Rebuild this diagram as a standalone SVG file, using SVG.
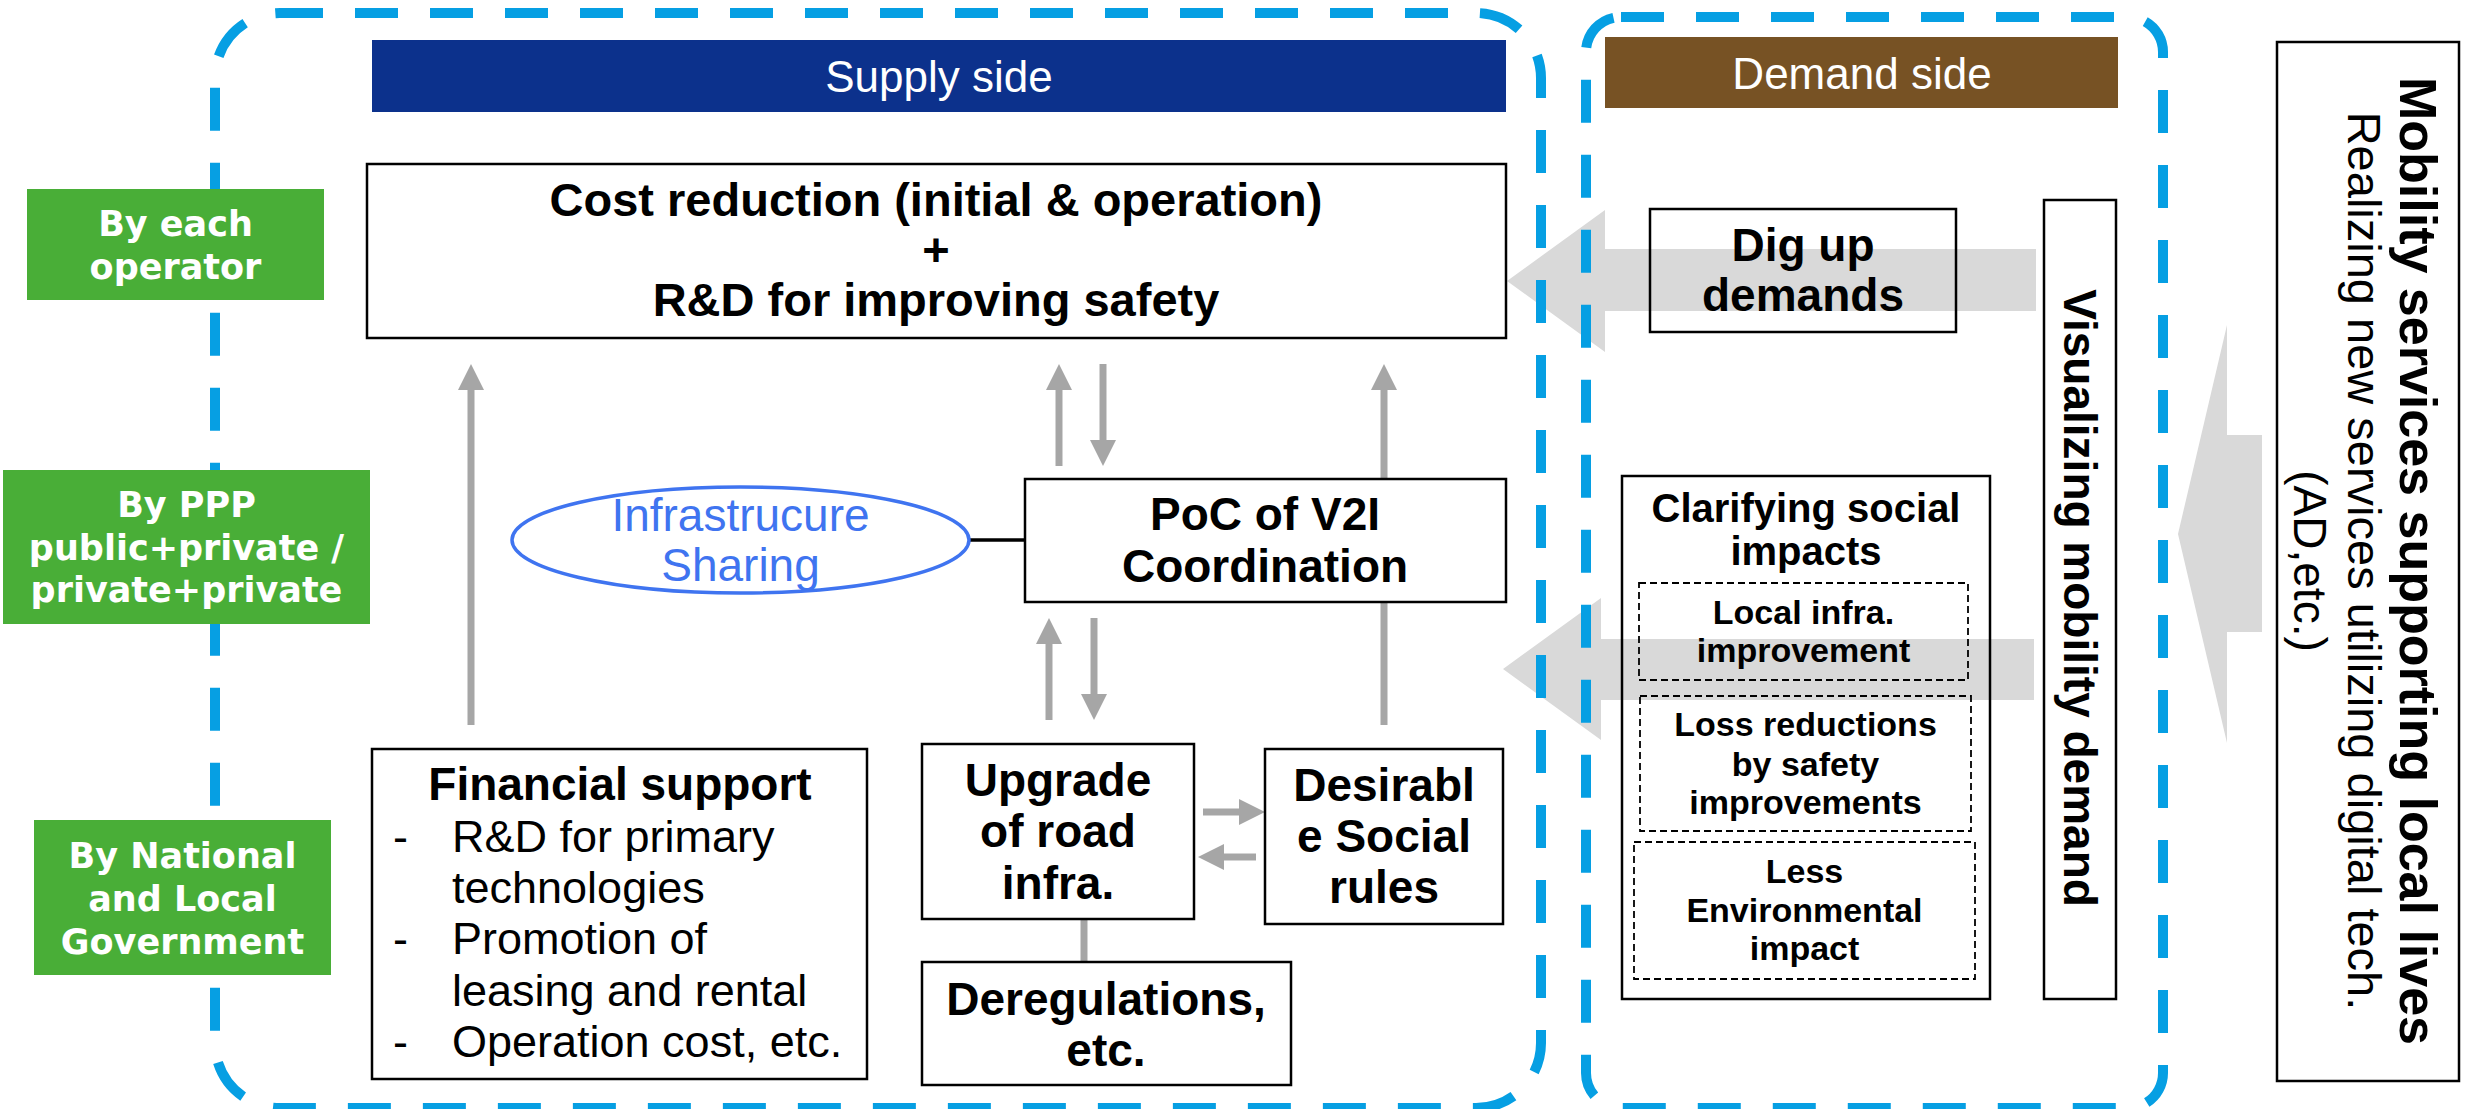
<svg xmlns="http://www.w3.org/2000/svg" width="2466" height="1109" viewBox="0 0 2466 1109">
<style>
.b{font-family:"Liberation Sans",Arial,sans-serif;font-weight:bold;fill:#000;text-anchor:middle}
.r{font-family:"Liberation Sans",Arial,sans-serif;fill:#000}
.g{font-family:"DejaVu Sans",Verdana,sans-serif;font-weight:bold;fill:#fff;text-anchor:middle;font-size:35px}
.box{fill:#fff;stroke:#000;stroke-width:2.5}
.obox{fill:none;stroke:#000;stroke-width:2.5}
.dbox{fill:none;stroke:#000;stroke-width:1.8;stroke-dasharray:7 4}
.cont{fill:none;stroke:#069FE3;stroke-width:10;stroke-dasharray:43 32}
.grn{fill:#49AE37}
.big{fill:#D9D9D9}
.con{stroke:#A6A6A6;stroke-width:7;fill:none}
.ban{font-family:"Liberation Sans",Arial,sans-serif;fill:#fff;text-anchor:middle;font-size:44px}
</style>
<defs>
<marker id="ah" markerUnits="userSpaceOnUse" markerWidth="26" markerHeight="26" refX="0" refY="13" orient="auto">
<path d="M0,0 L26,13 L0,26 z" fill="#A6A6A6"/>
</marker>
</defs>

<g id="big-arrows">
<polygon class="big" points="1507,281 1605,210 1605,249 2036,249 2036,311 1605,311 1605,352"/>
<polygon class="big" points="1503,669 1601,598 1601,639 2034,639 2034,700 1601,700 1601,740"/>
<polygon class="big" points="2178,534 2227,325 2227,435 2262,435 2262,632 2227,632 2227,743"/>
</g>

<g id="containers">
<rect class="cont" x="215" y="13" width="1326" height="1095" rx="65" ry="65"/>
<rect class="cont" x="1586" y="17" width="577" height="1091" rx="35" ry="35"/>
</g>

<g id="level-each-operator">
<rect class="grn" x="27" y="189" width="297" height="111"/>
<text class="g" x="175.5" y="236">By each</text>
<text class="g" x="175.5" y="279">operator</text>
</g>
<g id="level-ppp">
<rect class="grn" x="3" y="470" width="367" height="154"/>
<text class="g" x="186.5" y="517">By PPP</text>
<text class="g" x="186.5" y="560">public+private /</text>
<text class="g" x="186.5" y="602">private+private</text>
</g>
<g id="level-government">
<rect class="grn" x="34" y="820" width="297" height="155"/>
<text class="g" x="182.5" y="868">By National</text>
<text class="g" x="182.5" y="911">and Local</text>
<text class="g" x="182.5" y="954">Government</text>
</g>

<g id="supply-banner">
<rect x="372" y="40" width="1134" height="72" fill="#0C318C"/>
<text class="ban" x="939" y="92">Supply side</text>
</g>
<g id="demand-banner">
<rect x="1605" y="37" width="513" height="71" fill="#775224"/>
<text class="ban" x="1862" y="89">Demand side</text>
</g>

<g id="connectors">
<path class="con" d="M471,725 V390" marker-end="url(#ah)"/>
<path class="con" d="M1059,466 V390" marker-end="url(#ah)"/>
<path class="con" d="M1103,364 V440" marker-end="url(#ah)"/>
<path class="con" d="M1384,725 V390" marker-end="url(#ah)"/>
<path class="con" d="M1049,720 V644" marker-end="url(#ah)"/>
<path class="con" d="M1094,618 V694" marker-end="url(#ah)"/>
<path class="con" d="M1203,812 H1239" marker-end="url(#ah)"/>
<path class="con" d="M1256,857 H1224" marker-end="url(#ah)"/>
<path class="con" d="M1084,919 V962"/>
<path d="M969,540 H1025" stroke="#000" stroke-width="3.5" fill="none"/>
</g>

<g id="cost-reduction">
<rect class="box" x="367" y="164" width="1139" height="174"/>
<text class="b" x="936" y="216" font-size="47">Cost reduction (initial &amp; operation)</text>
<text class="b" x="936" y="266" font-size="47">+</text>
<text class="b" x="936" y="316" font-size="47">R&amp;D for improving safety</text>
</g>

<g id="infra-sharing">
<ellipse cx="740.5" cy="540" rx="228.5" ry="53" fill="#fff" stroke="#3F74F0" stroke-width="3.5"/>
<text x="740.5" y="531" font-family="Liberation Sans,Arial,sans-serif" font-size="46" fill="#3F74F0" text-anchor="middle">Infrastrucure</text>
<text x="740.5" y="581" font-family="Liberation Sans,Arial,sans-serif" font-size="46" fill="#3F74F0" text-anchor="middle">Sharing</text>
</g>

<g id="poc">
<rect class="box" x="1025" y="479" width="481" height="123"/>
<text class="b" x="1265" y="530" font-size="46">PoC of V2I</text>
<text class="b" x="1265" y="582" font-size="46">Coordination</text>
</g>

<g id="financial">
<rect class="box" x="372" y="749" width="495" height="330"/>
<text class="b" x="620" y="800" font-size="46">Financial support</text>
<text class="r" font-size="45">
<tspan x="393" y="852">-</tspan><tspan x="452" y="852">R&amp;D for primary</tspan>
<tspan x="452" y="903">technologies</tspan>
<tspan x="393" y="954">-</tspan><tspan x="452" y="954">Promotion of</tspan>
<tspan x="452" y="1006">leasing and rental</tspan>
<tspan x="393" y="1057">-</tspan><tspan x="452" y="1057">Operation cost, etc.</tspan>
</text>
</g>

<g id="upgrade">
<rect class="box" x="922" y="744" width="272" height="175"/>
<text class="b" x="1058" y="796" font-size="46">Upgrade</text>
<text class="b" x="1058" y="847" font-size="46">of road</text>
<text class="b" x="1058" y="899" font-size="46">infra.</text>
</g>

<g id="desirable">
<rect class="box" x="1265" y="749" width="238" height="175"/>
<text class="b" x="1384" y="801" font-size="46">Desirabl</text>
<text class="b" x="1384" y="852" font-size="46">e Social</text>
<text class="b" x="1384" y="903" font-size="46">rules</text>
</g>

<g id="deregulations">
<rect class="box" x="922" y="962" width="369" height="123"/>
<text class="b" x="1106" y="1015" font-size="46">Deregulations,</text>
<text class="b" x="1106" y="1066" font-size="46">etc.</text>
</g>

<g id="dig-up">
<rect class="obox" x="1650" y="209" width="306" height="123"/>
<text class="b" x="1803" y="261" font-size="46">Dig up</text>
<text class="b" x="1803" y="311" font-size="46">demands</text>
</g>

<g id="clarifying">
<rect class="obox" x="1622" y="476" width="368" height="523"/>
<text class="b" x="1806" y="522" font-size="40">Clarifying social</text>
<text class="b" x="1806" y="565" font-size="40">impacts</text>
<g id="local-infra">
<rect class="dbox" x="1639" y="583" width="329" height="97"/>
<text class="b" x="1803.5" y="624" font-size="34">Local infra.</text>
<text class="b" x="1803.5" y="662" font-size="34">improvement</text>
</g>
<g id="loss-reductions">
<rect class="dbox" x="1640" y="696" width="331" height="135"/>
<text class="b" x="1805.5" y="736" font-size="34">Loss reductions</text>
<text class="b" x="1805.5" y="776" font-size="34">by safety</text>
<text class="b" x="1805.5" y="814" font-size="34">improvements</text>
</g>
<g id="less-env">
<rect class="dbox" x="1634" y="842" width="341" height="137"/>
<text class="b" x="1804.5" y="883" font-size="34">Less</text>
<text class="b" x="1804.5" y="922" font-size="34">Environmental</text>
<text class="b" x="1804.5" y="960" font-size="34">impact</text>
</g>
</g>

<g id="visualizing">
<rect class="box" x="2044" y="200" width="72" height="799"/>
<text class="b" font-size="46" transform="translate(2064,598) rotate(90)" x="0" y="0">Visualizing mobility demand</text>
</g>

<g id="mobility-services">
<rect class="box" x="2277" y="42" width="182" height="1039"/>
<g transform="translate(2400,561) rotate(90)">
<text class="b" x="0" y="0" font-size="52">Mobility services supporting local lives</text>
<text class="r" x="0" y="52" font-size="47" text-anchor="middle">Realizing new services utilizing digital tech.</text>
<text class="r" x="0" y="106" font-size="46" text-anchor="middle">(AD,etc.)</text>
</g>
</g>
</svg>
